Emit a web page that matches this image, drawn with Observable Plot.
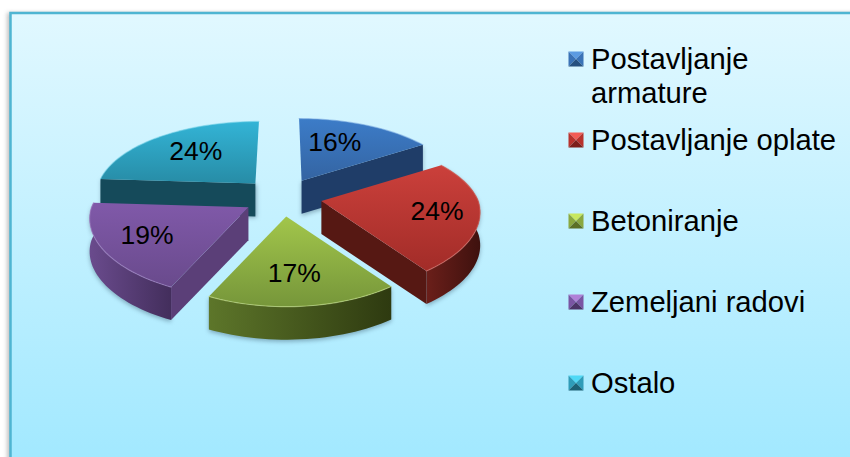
<!DOCTYPE html>
<html><head><meta charset="utf-8">
<script src="https://cdn.jsdelivr.net/npm/d3@7"></script>
<script src="https://cdn.jsdelivr.net/npm/@observablehq/plot@0.6"></script>
<style>html,body{margin:0;padding:0;background:#fff}svg{display:block}</style>
</head><body>
<script>
// --- data
const categories = ["Postavljanje\narmature", "Postavljanje oplate", "Betoniranje", "Zemeljani radovi", "Ostalo"];
const values = [16, 24, 17, 19, 24];
// --- style
const topLight  = ["#3c7cc8", "#cb403b", "#a2c64b", "#8059a9", "#33b4d6"];
const topDark   = ["#3464a2", "#a22c28", "#76963a", "#694a8c", "#278ca6"];
const sideLight = ["#2a5a90", "#6b1f1a", "#5d762a", "#6a4b8d", "#1b5a6c"];
const sideDark  = ["#1f3d68", "#3e110e", "#2e3a10", "#432e5c", "#154a5a"];
const cutColor  = ["#1f3d68", "#561813", "#4a5f20", "#5b3f78", "#154a5a"];
const rimColor  = ["#7aa9e0", "#e07a72", "#cfe68a", "#a98acb", "#7cd6ea"];
const swatchTop = ["#5b9be2", "#f25c56", "#c8e85f", "#b081d8", "#4fd8f5"];
const swatchMid = ["#3a72b6", "#b8322d", "#8aa83f", "#7a55a3", "#2f9cb8"];
const swatchLow = ["#26507f", "#7c1f1b", "#5b7026", "#4c3468", "#1c6175"];
// --- geometry of the exploded perspective pie
const pie = {cx: 282, cy: 197, rx: 157, ry: 73.5, k: 0.184, kx: 0.15, depth: 33, ex: 39.6, ey: 19.2};
const labelRadius = [0.62, 0.735, 0.68, 0.71, 0.63];
const labelTurn = [-6, 0.5, 1.5, 0, 1.6];
const drawOrder = [4, 0, 3, 1, 2];

const total = d3.sum(values);
const rad = (d) => d * Math.PI / 180;
let acc = 0;
const slices = values.map((v, i) => {
  const a0 = acc / total * 360; acc += v; const a1 = acc / total * 360;
  const mid = rad((a0 + a1) / 2);
  return {i, v, a0, a1, mid, ax: pie.cx + pie.ex * Math.sin(mid), ay: pie.cy - pie.ey * Math.cos(mid)};
});
function project(s, deg, r = 1, drop = 0) {
  const X = r * Math.sin(rad(deg)), Y = -r * Math.cos(rad(deg));
  const p = 1 / (1 - pie.k * Y), q = 1 / (1 - pie.kx * Y);
  return {x: s.ax + X * pie.rx * q + (s.ax - pie.cx) * (Math.min(q, 1) - 1), y: s.ay + Y * pie.ry * p + drop};
}
function arc(s, from, to, drop = 0) {
  const n = Math.max(2, Math.ceil(Math.abs(to - from) / 2));
  return d3.range(n + 1).map((j) => project(s, from + (to - from) * j / n, 1, drop));
}
const apex = (s, drop = 0) => ({x: s.ax, y: s.ay + drop});
const topFace = (s) => [apex(s), ...arc(s, s.a0, s.a1), apex(s)];
const rimFace = (s, from, to) => [...arc(s, from, to), ...arc(s, to, from, pie.depth)];
const cutFace = (s, deg) => [apex(s), project(s, deg), project(s, deg, 1, pie.depth), apex(s, pie.depth)];

// --- gradients
const defs = () => {
  const d = d3.create("svg:defs");
  const grad = (id, a, b, horizontal) => {
    const g = d.append("linearGradient").attr("id", id)
      .attr("x1", 0).attr("y1", 0).attr("x2", horizontal ? 1 : 0).attr("y2", horizontal ? 0 : 1);
    g.append("stop").attr("offset", 0).attr("stop-color", a);
    g.append("stop").attr("offset", 1).attr("stop-color", b);
  };
  grad("panel", "#e1f8ff", "#9fe8ff");
  values.forEach((_, i) => {
    grad("top" + i, topLight[i], topDark[i]);
    grad("side" + i, sideLight[i], sideDark[i], true);
  });
  return d.node();
};

const X = (d) => d.x, Y = (d) => d.y;
const shadow = "drop-shadow(0px 2px 2px rgba(60,90,110,0.45))";
const softShadow = "drop-shadow(1px 1px 2px rgba(60,90,110,0.5))";
const poly = (pts, fill, extra = {}) => Plot.line(pts, {x: X, y: Y, fill, stroke: "none", ...extra});

const pieMarks = drawOrder.flatMap((i) => {
  const s = slices[i], marks = [];
  // sides that face the viewer
  if (i === 0) marks.push(poly(cutFace(s, s.a1), cutColor[i], {imageFilter: shadow}));
  if (i === 1) {
    marks.push(poly(rimFace(s, s.a0, s.a1), `url(#side${i})`, {imageFilter: shadow}));
    marks.push(poly(cutFace(s, s.a1), cutColor[i]));
  }
  if (i === 2) marks.push(poly(rimFace(s, s.a1, s.a0), `url(#side${i})`, {imageFilter: shadow}));
  if (i === 3) {
    marks.push(poly(rimFace(s, s.a1, s.a0), `url(#side${i})`, {imageFilter: shadow}));
    marks.push(poly(cutFace(s, s.a0), cutColor[i]));
  }
  if (i === 4) marks.push(poly(cutFace(s, s.a0), cutColor[i], {imageFilter: softShadow}));
  marks.push(poly(topFace(s), `url(#top${i})`));
  marks.push(Plot.line(arc(s, s.a0, s.a1), {x: X, y: Y, stroke: rimColor[i], strokeWidth: 1.2, strokeOpacity: 0.55}));
  return marks;
});

const labels = slices.map((s, i) => ({
  ...project(s, (s.a0 + s.a1) / 2 + labelTurn[i], labelRadius[i]),
  text: s.v + "%"
}));

// --- legend
const legend = {x: 568, y: 51, size: 15, step: 81, textX: 590.5};
const swatchMarks = categories.flatMap((_, i) => {
  const x0 = legend.x, y0 = legend.y + i * legend.step, w = legend.size;
  const c = {x: x0 + w / 2, y: y0 + w / 2};
  const tl = {x: x0, y: y0}, tr = {x: x0 + w, y: y0}, br = {x: x0 + w, y: y0 + w}, bl = {x: x0, y: y0 + w};
  return [
    poly([tl, tr, c], swatchTop[i]),
    poly([tl, bl, c], swatchMid[i]),
    poly([tr, br, c], swatchMid[i]),
    poly([bl, br, c], swatchLow[i])
  ];
});
const legendRows = categories.map((name, i) => ({
  name, x: legend.textX, y: legend.y + legend.size / 2 + i * legend.step
}));

const panel = [{x1: 10.5, x2: 870, y1: 13, y2: 480}];
const font = "Liberation Sans, Arial, sans-serif";

const chart = Plot.plot({
  width: 850, height: 457, margin: 0,
  x: {domain: [0, 850], range: [0, 850], axis: null},
  y: {domain: [0, 457], range: [0, 457], axis: null},
  style: {fontFamily: font, background: "#fff"},
  marks: [
    defs,
    Plot.rect(panel, {x1: "x1", x2: "x2", y1: "y1", y2: "y2", fill: "url(#panel)",
      stroke: "#4fb5d2", strokeWidth: 2.5, imageFilter: "drop-shadow(-2px 1px 2px rgba(90,90,90,0.4))"}),
    ...pieMarks,
    Plot.text(labels, {x: X, y: Y, text: "text", fontSize: 26.5, fill: "#000", textAnchor: "middle", lineAnchor: "middle"}),
    ...swatchMarks,
    Plot.text(legendRows, {x: "x", y: "y", text: "name", fontSize: 29.2, fill: "#000", textAnchor: "start",
      lineAnchor: "top", dy: -14, lineHeight: 1.165})
  ]
});
document.body.appendChild(chart);
</script>
</body></html>
